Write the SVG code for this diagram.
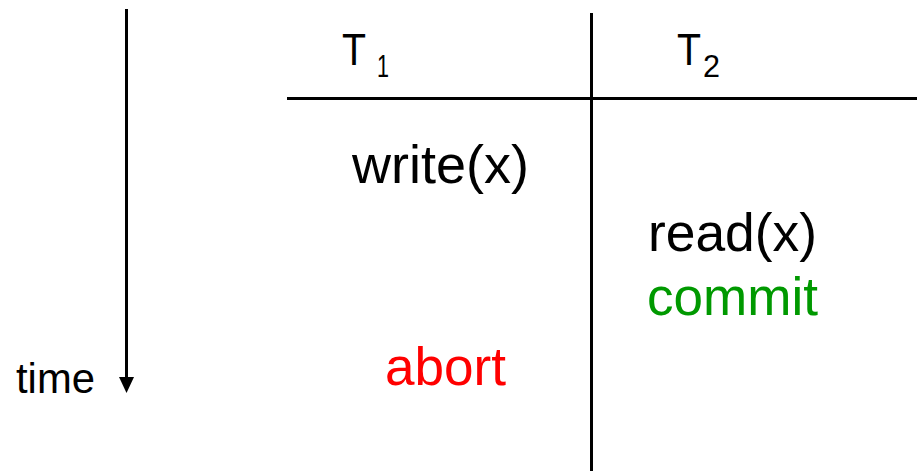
<svg xmlns="http://www.w3.org/2000/svg" width="917" height="471" viewBox="0 0 917 471">
<style>
  text { font-family: "Liberation Sans", Arial, sans-serif; }
  .body { font-size: 53px; }
  .hdr { font-size: 44px; fill: #000; }
  .sub { font-size: 32px; fill: #000; }
  .line { stroke: #000; stroke-width: 3; fill: none; }
</style>
<rect width="917" height="471" fill="#fff"/>
<g id="connectors">
  <line class="line" x1="126.5" y1="9" x2="126.5" y2="380" stroke-width="2.5"/>
  <polygon points="119,377 134,377 126.5,393" fill="#000"/>
  <line class="line" x1="287" y1="98.5" x2="917" y2="98.5"/>
  <line class="line" x1="591.5" y1="13" x2="591.5" y2="471"/>
</g>
<g id="time-label">
  <text x="16" y="393" font-size="42" textLength="79" lengthAdjust="spacingAndGlyphs">time</text>
</g>
<g id="T1">
  <text class="hdr" x="342" y="65" textLength="24" lengthAdjust="spacingAndGlyphs">T</text>
  <text class="sub" x="377" y="77" textLength="12" lengthAdjust="spacingAndGlyphs">1</text>
</g>
<g id="T2">
  <text class="hdr" x="677" y="65" textLength="24" lengthAdjust="spacingAndGlyphs">T</text>
  <text class="sub" x="703" y="77" textLength="17" lengthAdjust="spacingAndGlyphs">2</text>
</g>
<g id="write">
  <text class="body" x="352" y="183" textLength="177" lengthAdjust="spacingAndGlyphs">write(x)</text>
</g>
<g id="read">
  <text class="body" x="648" y="251" textLength="169" lengthAdjust="spacingAndGlyphs">read(x)</text>
</g>
<g id="commit">
  <text class="body" x="647" y="315" fill="#009900" textLength="171" lengthAdjust="spacingAndGlyphs">commit</text>
</g>
<g id="abort">
  <text class="body" x="385" y="385" fill="#ff0000" textLength="121" lengthAdjust="spacingAndGlyphs">abort</text>
</g>
</svg>
